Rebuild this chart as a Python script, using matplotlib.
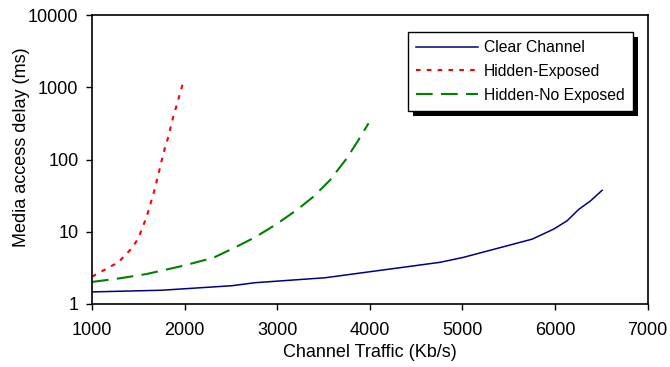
import matplotlib
matplotlib.use("Agg")
import matplotlib.pyplot as plt
from matplotlib.patches import Rectangle
from matplotlib.transforms import IdentityTransform

plt.rcParams['font.family'] = ['Liberation Sans', 'DejaVu Sans']

clear_x = [1000, 1750, 2510, 2760, 3520, 4005, 4762, 5014, 5754, 5988, 6132, 6257, 6384, 6510]
clear_y = [1.47, 1.55, 1.79, 1.97, 2.31, 2.8, 3.78, 4.43, 7.9, 10.9, 14.2, 20.4, 26.7, 37.5]

hexp_x = [1000, 1284, 1429, 1500, 1590, 1670, 1724, 1771, 1825, 1868, 1915, 1951, 1987]
hexp_y = [2.39, 3.78, 5.9, 8.1, 16.1, 35.9, 67.9, 122, 207, 352, 568, 825, 1195]

hnoexp_x = [1000, 1303, 1590, 1987, 2311, 2527, 2762, 2978, 3212, 3392, 3572, 3752, 3878, 3987]
hnoexp_y = [2.02, 2.27, 2.6, 3.39, 4.37, 5.9, 8.4, 12.4, 20, 30.6, 52, 104, 186, 317]

series_labels = ["Clear Channel", "Hidden-Exposed", "Hidden-No Exposed"]
x_ticks = [1000, 2000, 3000, 4000, 5000, 6000, 7000]
y_ticks = [1, 10, 100, 1000, 10000]

fig = plt.figure(figsize=(6.7, 3.67), dpi=100)
ax = fig.add_axes([92/670, 63/367, 555.5/670, 289/367])

ax.plot(clear_x, clear_y, color='#000080', lw=1.1, label=series_labels[0])
ax.plot(hexp_x, hexp_y, color='#FF0000', lw=1.5, dashes=(2.2, 3.0), label=series_labels[1])
ax.plot(hnoexp_x, hnoexp_y, color='#008000', lw=1.5, dashes=(8, 4), label=series_labels[2])

ax.set_yscale('log')
ax.set_xlim(1000, 7000)
ax.set_ylim(1, 10000)
ax.set_xticks(x_ticks)
ax.set_xticklabels([str(t) for t in x_ticks])
ax.set_yticks(y_ticks)
ax.set_yticklabels([str(t) for t in y_ticks])
ax.minorticks_off()
ax.tick_params(axis='both', direction='out', length=4.3, width=1, labelsize=13)
ax.tick_params(axis='x', pad=8.5)
ax.tick_params(axis='y', pad=5.5)
for s in ax.spines.values():
    s.set_linewidth(1.2)

ax.set_xlabel("Channel Traffic (Kb/s)", fontsize=13, labelpad=3.5)
ax.set_ylabel("Media access delay (ms)", fontsize=13)
ax.yaxis.set_label_coords((30 - 92) / 555.5, (304 - 147.5) / 289)

leg = ax.legend(loc='upper right', bbox_to_anchor=((633.3-92)/555.5, (304-31.7)/289),
                borderaxespad=0, fancybox=False, framealpha=1, edgecolor='black',
                fontsize=11.3, handlelength=3.9, handletextpad=0.4, labelspacing=0.55,
                borderpad=0.55)
leg.get_frame().set_linewidth(1.0)
leg.set_zorder(6)

fig.canvas.draw()
bb = leg.get_window_extent()
off = 5
shadow = Rectangle((bb.x0 + off, bb.y0 - off), bb.width, bb.height,
                   transform=IdentityTransform(), facecolor='black', edgecolor='none',
                   zorder=5, clip_on=False)
ax.add_patch(shadow)

fig.savefig("out.png", dpi=100)
